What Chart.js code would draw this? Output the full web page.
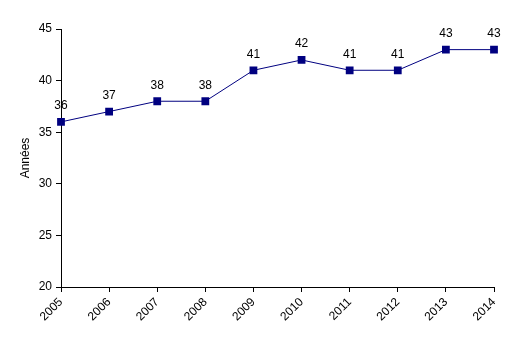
<!DOCTYPE html>
<html>
<head>
<meta charset="utf-8">
<script src="https://cdn.jsdelivr.net/npm/chart.js@4/dist/chart.umd.min.js"></script>
<style>
  html, body { margin: 0; padding: 0; background: #fff; }
  #wrap { width: 512px; height: 352px; }
</style>
</head>
<body>
<div id="wrap"><canvas id="ageChart" width="512" height="352"></canvas></div>
<script>
const years = ['2005', '2006', '2007', '2008', '2009', '2010', '2011', '2012', '2013', '2014'];
const ages = [36, 37, 38, 38, 41, 42, 41, 41, 43, 43];
const yTicks = [20, 25, 30, 35, 40, 45];

const navy = '#000080';
const font = { family: 'Liberation Sans, Arial, sans-serif', size: 12 };

// draws the value above each point
const valueLabels = {
  id: 'valueLabels',
  afterDatasetsDraw(chart) {
    const ctx = chart.ctx;
    const meta = chart.getDatasetMeta(0);
    ctx.save();
    ctx.font = '12px ' + font.family;
    ctx.fillStyle = '#000';
    ctx.textAlign = 'center';
    ctx.textBaseline = 'middle';
    meta.data.forEach((pt, i) => {
      ctx.fillText(String(ages[i]), pt.x, pt.y - 16);
    });
    ctx.restore();
  }
};

const ctx = document.getElementById('ageChart').getContext('2d');
new Chart(ctx, {
  type: 'line',
  data: {
    labels: years,
    datasets: [{
      data: ages,
      borderColor: navy,
      backgroundColor: navy,
      borderWidth: 1,
      pointStyle: 'rect',
      pointRadius: 5.5,
      pointBorderWidth: 0,
      tension: 0
    }]
  },
  options: {
    responsive: false,
    animation: false,
    layout: { padding: { left: 18, right: 18, top: 29, bottom: 0 } },
    plugins: {
      legend: { display: false },
      tooltip: { enabled: false }
    },
    scales: {
      x: {
        offset: false,
        afterFit: (scale) => { scale.height = 65; },
        grid: { display: true, drawOnChartArea: false, drawTicks: true, tickLength: 5, color: '#000' },
        border: { display: true, color: '#000', width: 1 },
        ticks: { color: '#000', font, minRotation: 45, maxRotation: 45, autoSkip: false, padding: 3 }
      },
      y: {
        min: 20,
        max: 45,
        afterFit: (scale) => { scale.width = 43; },
        afterBuildTicks: (scale) => { scale.ticks = yTicks.map(v => ({ value: v })); },
        grid: { display: true, drawOnChartArea: false, drawTicks: true, tickLength: 5, color: '#000' },
        border: { display: true, color: '#000', width: 1 },
        ticks: { color: '#000', font, padding: 4 },
        title: { display: true, text: 'Années', color: '#000', font, padding: 0 }
      }
    }
  },
  plugins: [valueLabels]
});
</script>
</body>
</html>
